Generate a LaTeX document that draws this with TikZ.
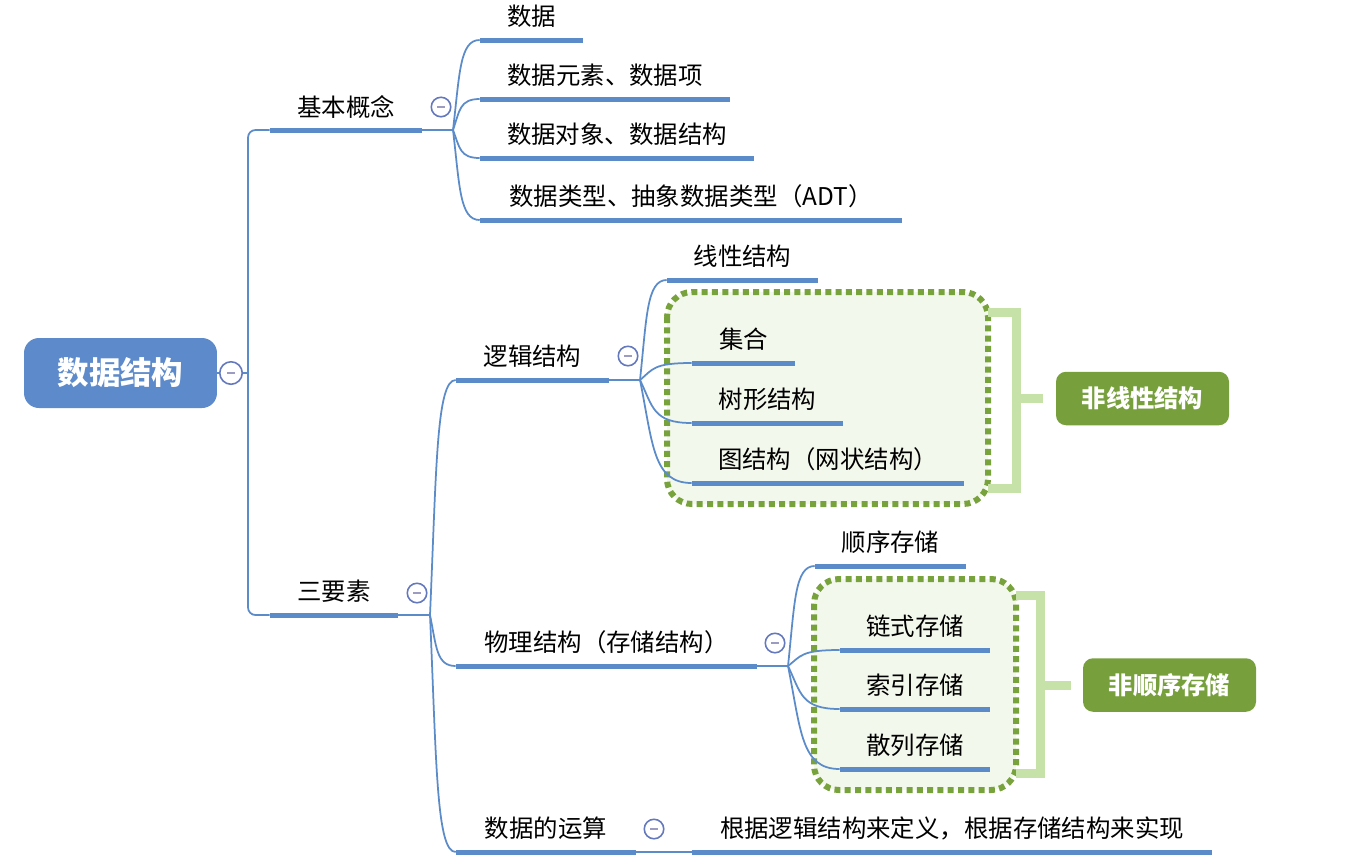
\documentclass[tikz,border=0pt]{standalone}
\usepackage{fontspec}
\setmainfont{Noto Sans CJK SC}
\usetikzlibrary{calc}
\definecolor{lineblue}{HTML}{5B8BC9}
\definecolor{rootblue}{HTML}{5C8ACA}
\definecolor{foldblue}{HTML}{6478BE}
\definecolor{foldgrey}{HTML}{9C9CC2}
\definecolor{dotgreen}{HTML}{78A23C}
\definecolor{boxgreen}{HTML}{F3F8EC}
\definecolor{brgreen}{HTML}{C7E2A8}
\definecolor{taggreen}{HTML}{77A03D}
\tikzset{
  topic/.style={anchor=south,minimum height=0.92cm,inner sep=0pt,
    font=\fontsize{13.9pt}{16pt}\selectfont},
  root/.style={fill=rootblue,rounded corners=0.3cm,minimum width=3.86cm,
    minimum height=1.4cm,text=white,font=\fontsize{17.9pt}{20pt}\selectfont\bfseries},
  tag/.style={fill=taggreen,rounded corners=0.2cm,minimum width=3.46cm,
    minimum height=1.07cm,text=white,font=\fontsize{13.8pt}{16pt}\selectfont\bfseries},
  fold/.style={circle,draw=foldblue,fill=white,line width=0.9pt,minimum size=0.39cm,
    inner sep=0pt,path picture={\draw[foldgrey,line width=0.9pt]
      ([xshift=-0.08cm]path picture bounding box.center) --
      ([xshift=0.08cm]path picture bounding box.center);}},
  conn/.style={draw=lineblue,line width=0.035cm},
  uline/.style={draw=lineblue,line width=0.1cm},
  grpbox/.style={draw=dotgreen,fill=boxgreen,line width=0.12cm,
    dash pattern=on 0.12cm off 0.086cm,rounded corners=0.5cm},
  bracket/.style={draw=brgreen,line width=0.18cm},
  branch/.style={to path={.. controls
    ($(\tikztostart)!0.5!(\tikztostart|-\tikztotarget)!0.25!(\tikztotarget)$) and
    ($(\tikztostart|-\tikztotarget)!0.25!(\tikztotarget)$) .. (\tikztotarget)}}
}
\begin{document}
\begin{tikzpicture}[x=0.02cm,y=-0.02cm]
  \useasboundingbox (0,0) rectangle (1364,866);
  \draw[grpbox] (667,292) rectangle (988,504);
  \draw[grpbox] (814,579) rectangle (1016,790);
  \draw
    (120.5,373) node[root] (root){数据结构}
    (346,130) node[topic,minimum width=3.04cm] (jbgn){基本概念}
    (334,615) node[topic,minimum width=2.56cm] (sys){三要素}
    (531.5,40) node[topic,minimum width=2.06cm] (sj){数据}
    (605,99) node[topic,minimum width=5.0cm] (sjys){数据元素、数据项}
    (617,158) node[topic,minimum width=5.48cm] (sjdx){数据对象、数据结构}
    (691,220) node[topic,minimum width=8.44cm] (sjlx){数据类型、抽象数据类型（ADT）}
    (532.5,380) node[topic,minimum width=3.06cm] (ljjg){逻辑结构}
    (606.5,666) node[topic,minimum width=6.02cm] (wljg){物理结构（存储结构）}
    (546,852) node[topic,minimum width=3.6cm] (sjys2){数据的运算}
    (952,852) node[topic,minimum width=10.4cm] (sjys3){根据逻辑结构来定义，根据存储结构来实现}
    (742.5,280) node[topic,minimum width=3.02cm] (xxjg){线性结构}
    (743.5,363) node[topic,minimum width=2.06cm] (jh){集合}
    (767.5,423) node[topic,minimum width=3.02cm] (sxjg){树形结构}
    (828,483) node[topic,minimum width=5.44cm] (tjg){图结构（网状结构）}
    (890.5,566) node[topic,minimum width=3.02cm] (sxcc){顺序存储}
    (915,650) node[topic,minimum width=3.0cm] (lscc){链式存储}
    (915,709) node[topic,minimum width=3.0cm] (sycc){索引存储}
    (915,769) node[topic,minimum width=3.0cm] (slcc){散列存储}
    (1142.5,398.5) node[tag] (fxx){非线性结构}
    (1169.5,685) node[tag] (fsx){非顺序存储};
  \coordinate (t0) at (248,373);
  \coordinate (b1) at (453,130);
  \coordinate (b2) at (430,615);
  \coordinate (b3) at (640,380);
  \coordinate (b4) at (788,666);
  \begin{scope}[conn]
    \draw (root.east) -- (t0);
    \draw[rounded corners=0.15cm] (t0) |- (jbgn.south west);
    \draw[rounded corners=0.15cm] (t0) |- (sys.south west);
    \draw (jbgn.south east) -- (b1);
    \draw (b1) to[branch] (sj.south west);
    \draw (b1) to[branch] (sjys.south west);
    \draw (b1) to[branch] (sjdx.south west);
    \draw (b1) to[branch] (sjlx.south west);
    \draw (sys.south east) -- (b2);
    \draw (b2) to[branch] (ljjg.south west);
    \draw (b2) to[branch] (wljg.south west);
    \draw (b2) to[branch] (sjys2.south west);
    \draw (ljjg.south east) -- (b3);
    \draw (b3) to[branch] (xxjg.south west);
    \draw (b3) to[branch] (jh.south west);
    \draw (b3) to[branch] (sxjg.south west);
    \draw (b3) to[branch] (tjg.south west);
    \draw (wljg.south east) -- (b4);
    \draw (b4) to[branch] (sxcc.south west);
    \draw (b4) to[branch] (lscc.south west);
    \draw (b4) to[branch] (sycc.south west);
    \draw (b4) to[branch] (slcc.south west);
    \draw (sjys2.south east) -- (sjys3.south west);
  \end{scope}
  \begin{scope}[uline]
    \draw (jbgn.south west) -- (jbgn.south east);
    \draw (sys.south west) -- (sys.south east);
    \draw (sj.south west) -- (sj.south east);
    \draw (sjys.south west) -- (sjys.south east);
    \draw (sjdx.south west) -- (sjdx.south east);
    \draw (sjlx.south west) -- (sjlx.south east);
    \draw (ljjg.south west) -- (ljjg.south east);
    \draw (wljg.south west) -- (wljg.south east);
    \draw (sjys2.south west) -- (sjys2.south east);
    \draw (sjys3.south west) -- (sjys3.south east);
    \draw (xxjg.south west) -- (xxjg.south east);
    \draw (jh.south west) -- (jh.south east);
    \draw (sxjg.south west) -- (sxjg.south east);
    \draw (tjg.south west) -- (tjg.south east);
    \draw (sxcc.south west) -- (sxcc.south east);
    \draw (lscc.south west) -- (lscc.south east);
    \draw (sycc.south west) -- (sycc.south east);
    \draw (slcc.south west) -- (slcc.south east);
  \end{scope}
  \begin{scope}[bracket]
    \draw (988,312) -- (1016,312) -- (1016,488) -- (988,488);
    \draw[shorten >=0.26cm] (1016,398.5) -- (fxx.west);
    \draw (1016,595) -- (1040,595) -- (1040,773) -- (1016,773);
    \draw[shorten >=0.24cm] (1040,685) -- (fsx.west);
  \end{scope}
  \draw
    (231,373) node[fold,minimum size=0.45cm] (f0){}
    (441,107) node[fold] (f1){}
    (417,593) node[fold] (f2){}
    (628,356) node[fold] (f3){}
    (775,643) node[fold] (f4){}
    (654,829) node[fold] (f5){};
\end{tikzpicture}
\end{document}
